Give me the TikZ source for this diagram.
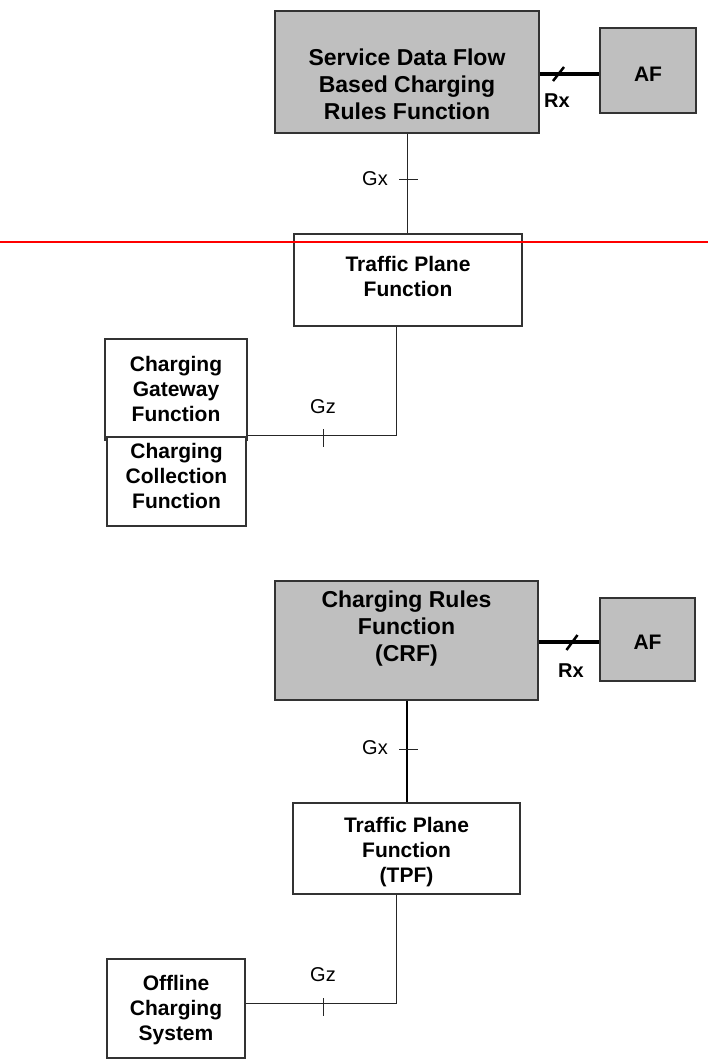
\documentclass[tikz,border=0pt]{standalone}
\usepackage{fontspec}
\setmainfont{Liberation Sans}
\tikzset{
  plainbox/.style={draw=black!80, line width=1.3pt, fill=white, rectangle, inner sep=0pt},
  shadedbox/.style={plainbox, fill=black!25},
  txt/.style={align=center, font=\bfseries\fontsize{21}{25}\selectfont, inner sep=0pt},
  bigtxt/.style={align=center, font=\bfseries\fontsize{23}{27}\selectfont, inner sep=0pt},
  lbl/.style={font=\fontsize{20}{24}\selectfont, inner sep=0pt},
  boldlbl/.style={font=\bfseries\fontsize{20}{24}\selectfont, inner sep=0pt},
  conn/.style={line width=1pt, black!85},
  heavyconn/.style={line width=2pt, black},
  rxconn/.style={line width=4.5pt, black},
  slash/.style={line width=2.5pt, black},
}
\begin{document}
\begin{tikzpicture}[x=1pt,y=-1pt]
\useasboundingbox (0,0) rectangle (708,1060);

% ---------- upper diagram ----------
\node[shadedbox, minimum width=264pt, minimum height=122pt] (sdf) at (407,72) {};
\node[bigtxt] (sdft) at (407,84.5) {Service Data Flow\\Based Charging\\Rules Function};
\node[shadedbox, minimum width=96pt, minimum height=85pt] (af1) at (648,70.5) {};
\node[txt] (af1t) at (648,74) {AF};
\node[plainbox, minimum width=228pt, minimum height=92pt] (tpf1) at (408,280) {};
\node[txt] (tpf1t) at (408,276) {Traffic Plane\\Function};
\node[plainbox, minimum width=142pt, minimum height=101pt] (cgf) at (176,389.5) {};
\node[txt] (cgft) at (176,389) {Charging\\Gateway\\Function};
\node[plainbox, minimum width=139pt, minimum height=89pt] (ccf) at (176.5,481.5) {};
\node[txt] (ccft) at (176.5,476) {Charging\\Collection\\Function};

\coordinate (rx1) at (558.5,74);
\draw[rxconn] (sdf.east |- rx1) -- (af1.west |- rx1);
\draw[slash] (rx1) ++(-5.5,7) -- ++(11,-14);
\node[boldlbl] (rx1l) at (557,101) {Rx};

\draw[conn] (sdf.south) -- (sdf.south |- tpf1.north);
\coordinate (gx1) at (407,179);
\draw[conn] (gx1) ++(-8,0) -- ++(19,0);
\node[lbl] (gx1l) at (375,179) {Gx};

\coordinate (gzc1) at (396,435);
\draw[conn] (tpf1.south -| gzc1) -- (gzc1) -- (gzc1 -| cgf.east);
\coordinate (gz1) at (323,435);
\draw[conn] (gz1) ++(0,-6) -- ++(0,18);
\node[lbl] (gz1l) at (323,407) {Gz};

% ---------- lower diagram ----------
\node[shadedbox, minimum width=263pt, minimum height=119pt] (crf) at (406.5,640.5) {};
\node[bigtxt] (crft) at (406.5,629) {Charging Rules\\Function\\(CRF)};
\node[shadedbox, minimum width=95pt, minimum height=83pt] (af2) at (647.5,639.5) {};
\node[txt] (af2t) at (647.5,642) {AF};
\node[plainbox, minimum width=227pt, minimum height=91pt] (tpf2) at (406.5,848.5) {};
\node[txt] (tpf2t) at (406.5,852) {Traffic Plane\\Function\\(TPF)};
\node[plainbox, minimum width=138pt, minimum height=99pt] (ocs) at (176,1008.5) {};
\node[txt] (ocst) at (176,1010) {Offline\\Charging\\System};

\coordinate (rx2) at (572,642);
\draw[rxconn] (crf.east |- rx2) -- (af2.west |- rx2);
\draw[slash] (rx2) ++(-5.5,8) -- ++(11,-15);
\node[boldlbl] (rx2l) at (571,671) {Rx};

\coordinate (gxtop2) at (407,700);
\draw[heavyconn] (crf.south -| gxtop2) -- (tpf2.north -| gxtop2);
\coordinate (gx2) at (407,749);
\draw[conn] (gx2) ++(-8,0) -- ++(19,0);
\node[lbl] (gx2l) at (375,748) {Gx};

\coordinate (gzc2) at (396,1003);
\draw[conn] (tpf2.south -| gzc2) -- (gzc2) -- (gzc2 -| ocs.east);
\coordinate (gz2) at (323,1003);
\draw[conn] (gz2) ++(0,-5) -- ++(0,18);
\node[lbl] (gz2l) at (323,975) {Gz};

% red separator
\draw[red, line width=1.4pt] (0,242) -- (708,242);
\end{tikzpicture}
\end{document}
